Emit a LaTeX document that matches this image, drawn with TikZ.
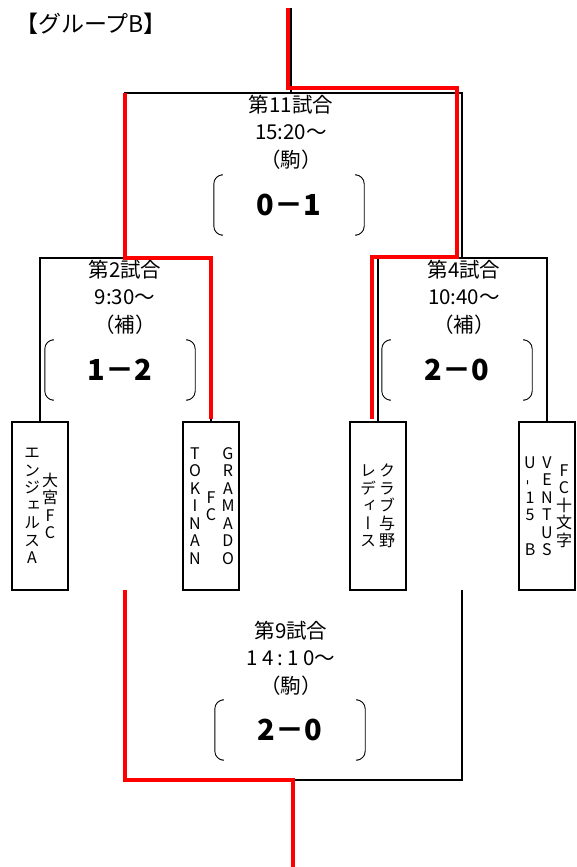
\documentclass[tikz,border=0pt]{standalone}
\usepackage{fontspec}
\newfontfamily\jp{Noto Sans CJK JP}
\newfontfamily\jpv[RawFeature=+vert]{Noto Sans CJK JP}
\usetikzlibrary{positioning,calc}
\tikzset{
  wire/.style={line width=1.5pt},
  win/.style={line width=4.5pt, red},
  team/.style={draw, line width=1.8pt, minimum width=56pt, minimum height=168pt, inner sep=0pt},
  tate/.style={align=center, inner sep=0pt, font=\jpv\fontsize{16}{17.5}\selectfont},
  info/.style={align=center, inner sep=0pt, font=\jp\fontsize{20.5}{27.5}\selectfont},
  score/.style={inner sep=0pt, minimum width=150pt, minimum height=60pt, font=\jp\bfseries\fontsize{29}{29}\selectfont},
  brk/.style={line width=0.9pt, rounded corners=9pt},
}

\begin{document}
\begin{tikzpicture}[x=1pt,y=-1pt]
\useasboundingbox (0,0) rectangle (576,867);
\node[anchor=west, inner sep=0pt, font=\jp\fontsize{23}{23}\selectfont] (title) at (15,24) {【グループB】};

\node[team] (t1) at (40,506) {};
\node[team] (t2) at (211,506) {};
\node[team] (t3) at (378,506) {};
\node[team] (t4) at (547,506) {};
\node[tate] (t1a) at ([xshift=-8pt]t1.center) {エ\\ン\\ジ\\ェ\\ル\\ス\\A};
\node[tate] (t1b) at ([xshift=10pt]t1.center) {大\\宮\\F\\C};
\node[tate] (t2a) at ([xshift=-16pt]t2.center) {T\\O\\K\\I\\N\\A\\N};
\node[tate] (t2b) at (t2.center) {F\\C};
\node[tate] (t2c) at ([xshift=17pt]t2.center) {G\\R\\A\\M\\A\\D\\O};
\node[tate] (t3a) at ([xshift=-10pt]t3.center) {レ\\デ\\ィ\\ー\\ス};
\node[tate] (t3b) at ([xshift=9pt]t3.center) {ク\\ラ\\ブ\\与\\野};
\node[tate] (t4a) at ([xshift=-17pt]t4.center) {U\\\rotatebox{90}{-}\\1\\5\\\mbox{}\\B};
\node[tate] (t4b) at (t4.center) {V\\E\\N\\T\\U\\S};
\node[tate] (t4c) at ([xshift=17pt]t4.center) {F\\C\\十\\文\\字};

\coordinate (top) at (291,8);
\coordinate (m11top) at (291,93);
\coordinate (m2top) at (125,258);
\coordinate (m4top) at (462,258);
\coordinate (m2bot) at (125,590);
\coordinate (m4bot) at (462,590);
\coordinate (m9bot) at (293,780);
\coordinate (bottom) at (293,867);

\draw[wire] (t1.north) |- (m2top) -| (t2.north);
\draw[wire] (t3.north) |- (m4top) -| (t4.north);
\draw[wire] (m2top) |- (m11top) -| (m4top);
\draw[wire] (m11top) -- (top);
\draw[wire] (m2bot) |- (m9bot) -| (m4bot);
\draw[wire] (m9bot) -- (bottom);

\draw[win] ([xshift=-3pt]top) -- ([shift={(-3pt,5pt)}]m11top) -| ([shift={(-5pt,1pt)}]m4top) -| ([shift={(-6pt,2pt)}]t3.north);
\draw[win] (m2top |- m11top) -- (m2top) -| ([yshift=2pt]t2.north);
\draw[win] (m2bot) |- (m9bot) -- (bottom);

\node[info] (m11) at (291,132) {第11試合\\15:20〜\\（駒）};
\node[info] (m2) at (125,297) {第2試合\\9:30〜\\（補）};
\node[info] (m4) at (464,297) {第4試合\\10:40〜\\（補）};
\node[info] (m9) at (291,658) {第9試合\\{\addfontfeature{LetterSpace=20}14:10}〜\\（駒）};

\node[score] (s11) at (289,205) {0－1};
\node[score] (s2) at (120,370) {1－2};
\node[score] (s4) at (457,370) {2－0};
\node[score] (s9) at (290,730) {2－0};
\draw[brk] ([xshift=7pt]s11.north west) -- (s11.north west) -- (s11.south west) -- ([xshift=7pt]s11.south west);
\draw[brk] ([xshift=-7pt]s11.north east) -- (s11.north east) -- (s11.south east) -- ([xshift=-7pt]s11.south east);
\draw[brk] ([xshift=7pt]s2.north west) -- (s2.north west) -- (s2.south west) -- ([xshift=7pt]s2.south west);
\draw[brk] ([xshift=-7pt]s2.north east) -- (s2.north east) -- (s2.south east) -- ([xshift=-7pt]s2.south east);
\draw[brk] ([xshift=7pt]s4.north west) -- (s4.north west) -- (s4.south west) -- ([xshift=7pt]s4.south west);
\draw[brk] ([xshift=-7pt]s4.north east) -- (s4.north east) -- (s4.south east) -- ([xshift=-7pt]s4.south east);
\draw[brk] ([xshift=7pt]s9.north west) -- (s9.north west) -- (s9.south west) -- ([xshift=7pt]s9.south west);
\draw[brk] ([xshift=-7pt]s9.north east) -- (s9.north east) -- (s9.south east) -- ([xshift=-7pt]s9.south east);
\end{tikzpicture}
\end{document}
